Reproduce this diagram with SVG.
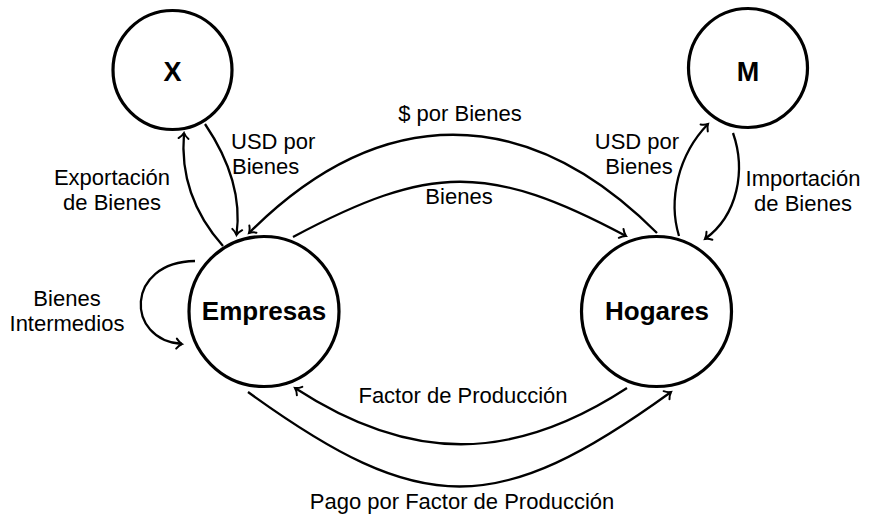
<svg xmlns="http://www.w3.org/2000/svg" width="875" height="515" viewBox="0 0 875 515">
<defs>
<style>
.node{fill:#fff;stroke:#000;stroke-width:3.2}
.edge{fill:none;stroke:#000;stroke-width:2.3;marker-end:url(#arr)}
.lbl{font-family:"Liberation Sans",Arial,sans-serif;font-size:22px;fill:#000}
.nm{font-family:"Liberation Sans",Arial,sans-serif;font-size:26px;font-weight:bold;fill:#000;text-anchor:middle}
.big{font-size:27px}
.c{text-anchor:middle}
</style>
<marker id="arr" markerUnits="userSpaceOnUse" markerWidth="14" markerHeight="14" viewBox="-8 -7 10 14" refX="0" refY="0" orient="auto">
<path d="M-5.5,-5 C-3.5,-2.2 -1.2,-0.6 0,0 C-1.2,0.6 -3.5,2.2 -5.5,5" fill="none" stroke="#000" stroke-width="2" stroke-linecap="round"/>
</marker>
</defs>
<rect width="875" height="515" fill="#fff"/>
<g id="connectors">
<path class="edge" d="M223,246 C198,218 180,180 184,133"/>
<path class="edge" d="M205,124 C228,158 242,195 236.5,235"/>
<path class="edge" d="M657,233 C526,102 380,102 249,233"/>
<path class="edge" d="M293,237 C430,164 489,163 626,236"/>
<path class="edge" d="M679,236 C668,200 678,155 708,124"/>
<path class="edge" d="M733,133 C746,170 738,215 705,239"/>
<path class="edge" d="M195,261 C125,262 125,340 182,344"/>
<path class="edge" d="M627,388 C512,463 410,463 295,388"/>
<path class="edge" d="M248,392 C422,518 497,518 671,392"/>
</g>
<g id="labels">
<text class="lbl c" x="112" y="185">Exportación</text>
<text class="lbl c" x="112" y="210">de Bienes</text>
<text class="lbl" x="231" y="149">USD por</text>
<text class="lbl" x="232" y="174">Bienes</text>
<text class="lbl c" x="460" y="121">$ por Bienes</text>
<text class="lbl c" x="459" y="204">Bienes</text>
<text class="lbl c" x="637" y="149">USD por</text>
<text class="lbl c" x="639" y="174">Bienes</text>
<text class="lbl c" x="803" y="186">Importación</text>
<text class="lbl c" x="803" y="211">de Bienes</text>
<text class="lbl c" x="67" y="306">Bienes</text>
<text class="lbl c" x="67" y="331">Intermedios</text>
<text class="lbl c" x="463" y="403">Factor de Producción</text>
<text class="lbl c" x="462" y="509">Pago por Factor de Producción</text>
</g>
<g id="node-X">
<circle class="node" cx="172.5" cy="70" r="59.5"/>
<text class="nm big" x="172.5" y="81">X</text>
</g>
<g id="node-M">
<circle class="node" cx="748" cy="68" r="59.5"/>
<text class="nm big" x="748" y="81">M</text>
</g>
<g id="node-Empresas">
<circle class="node" cx="264" cy="311.5" r="75"/>
<text class="nm" x="264" y="320">Empresas</text>
</g>
<g id="node-Hogares">
<circle class="node" cx="656.5" cy="311.5" r="75"/>
<text class="nm" x="657" y="320">Hogares</text>
</g>
</svg>
